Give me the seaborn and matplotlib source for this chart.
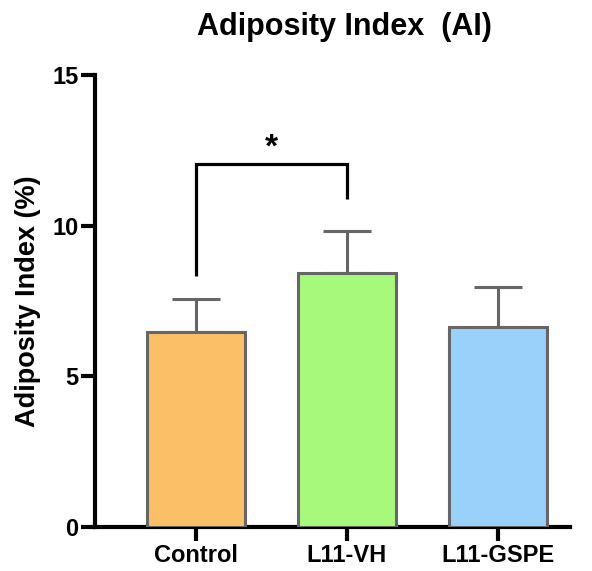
import matplotlib
matplotlib.use("Agg")
import matplotlib.pyplot as plt
import seaborn as sns
import pandas as pd
import numpy as np

groups = ["Control", "L11-VH", "L11-GSPE"]
means = [6.46, 8.42, 6.64]
errs = [1.09, 1.41, 1.33]
colors = ["#FBBF68", "#A6F97A", "#99D1FB"]
title = "Adiposity Index  (AI)"
ylabel = "Adiposity Index (%)"
yticks = [0, 5, 10, 15]
sig_pair = (0, 1)
sig_left, sig_right, sig_top = 8.34, 10.9, 12.04
sig_text = "*"

sns.set_theme(style="white")
plt.rcParams["font.family"] = ["Liberation Sans", "DejaVu Sans"]
plt.rcParams["font.weight"] = "bold"
plt.rcParams["text.color"] = "black"
plt.rcParams["axes.labelcolor"] = "black"

df = pd.DataFrame({"group": groups, "mean": means})
fig = plt.figure(figsize=(5.92, 5.71), dpi=100)
ax = fig.add_axes([0.1605, 0.0771, 0.8025, 0.7916])

sns.barplot(data=df, x="group", y="mean", hue="group", palette=colors,
            width=0.65, edgecolor="#666666", linewidth=2.2, saturation=1,
            legend=False, errorbar=None, ax=ax, zorder=3)
ax.errorbar(range(len(groups)), means, yerr=[np.zeros(len(errs)), errs],
            fmt="none", ecolor="#666666", elinewidth=2.2, capsize=17.5,
            capthick=2.2, zorder=2)

x0, x1 = sig_pair
ax.plot([x0, x0, x1, x1], [sig_left, sig_top, sig_top, sig_right],
        color="black", lw=2.3, solid_capstyle="butt", solid_joinstyle="miter",
        clip_on=False)
ax.text((x0 + x1) / 2, sig_top + 0.02, sig_text, ha="center", va="bottom",
        fontsize=24, fontweight="bold", color="black")

ax.set_xlim(-0.67, 2.48)
ax.set_ylim(0, 15)
ax.set_yticks(yticks)
ax.set_xlabel("")
ax.set_ylabel(ylabel, fontsize=19.5, fontweight="bold", labelpad=8, color="black")
ax.set_title(title, fontsize=22, fontweight="bold", pad=29, color="black",
             x=0.524)
sns.despine(ax=ax)
for s in ["left", "bottom"]:
    ax.spines[s].set_linewidth(3)
    ax.spines[s].set_color("black")
ax.tick_params(axis="both", length=10, width=3, color="black",
               labelsize=17, labelcolor="black", direction="out",
               left=True, bottom=True, pad=2)
for lab in ax.get_xticklabels() + ax.get_yticklabels():
    lab.set_fontweight("bold")

fig.savefig("out.png", dpi=100)
